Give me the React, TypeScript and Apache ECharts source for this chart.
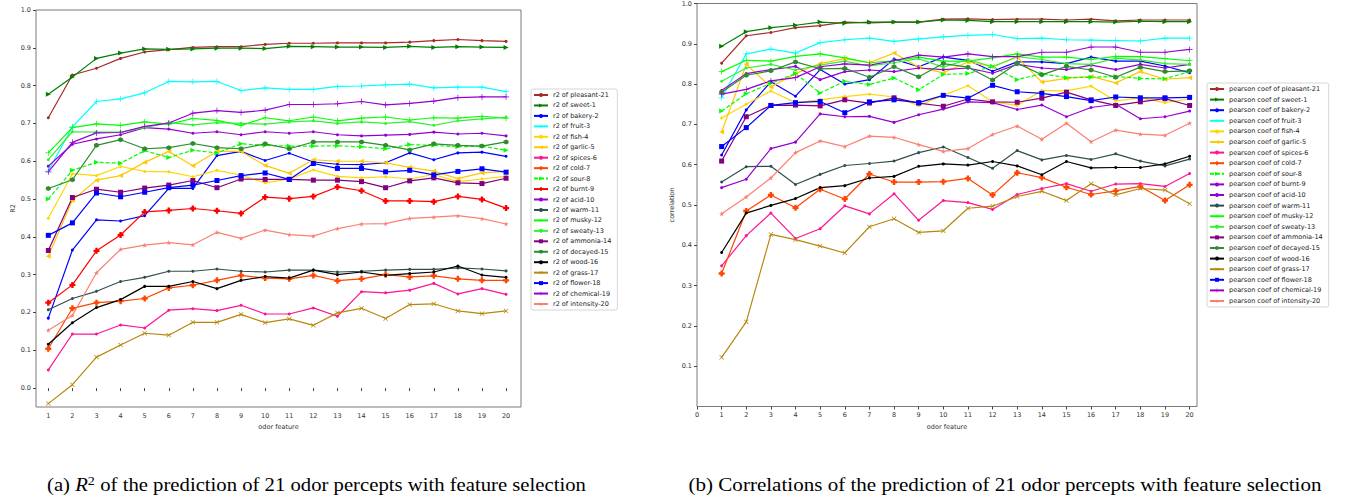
import React, { useEffect, useRef } from "react";
import * as echarts from "echarts";

const featureCounts = [1, 2, 3, 4, 5, 6, 7, 8, 9, 10, 11, 12, 13, 14, 15, 16, 17, 18, 19, 20];
const percepts = [
  "pleasant-21", "sweet-1", "bakery-2", "fruit-3", "fish-4", "garlic-5", "spices-6",
  "cold-7", "sour-8", "burnt-9", "acid-10", "warm-11", "musky-12", "sweaty-13",
  "ammonia-14", "decayed-15", "wood-16", "grass-17", "flower-18", "chemical-19", "intensity-20",
];
const r2Ticks = [0, 0.1, 0.2, 0.3, 0.4, 0.5, 0.6, 0.7, 0.8, 0.9, 1.0];
const corrTicks = [0.1, 0.2, 0.3, 0.4, 0.5, 0.6, 0.7, 0.8, 0.9, 1.0];
const corrXTicks = [0, 1, 2, 3, 4, 5, 6, 7, 8, 9, 10, 11, 12, 13, 14, 15, 16, 17, 18, 19, 20];

// ---- R2 values (left panel) ----
const pleasantR2 = [0.715, 0.828, 0.846, 0.872, 0.889, 0.895, 0.901, 0.903, 0.903, 0.909, 0.912, 0.912, 0.913, 0.913, 0.913, 0.915, 0.919, 0.922, 0.919, 0.917];
const sweetR2 = [0.777, 0.823, 0.872, 0.886, 0.897, 0.896, 0.897, 0.899, 0.899, 0.898, 0.904, 0.903, 0.902, 0.902, 0.901, 0.904, 0.901, 0.903, 0.902, 0.901];
const bakeryR2 = [0.185, 0.365, 0.445, 0.442, 0.456, 0.528, 0.528, 0.615, 0.626, 0.602, 0.621, 0.598, 0.592, 0.591, 0.596, 0.622, 0.604, 0.622, 0.624, 0.613];
const fruitR2 = [0.574, 0.691, 0.758, 0.765, 0.781, 0.811, 0.810, 0.811, 0.787, 0.794, 0.790, 0.790, 0.798, 0.799, 0.802, 0.804, 0.794, 0.796, 0.796, 0.784];
const fishR2 = [0.449, 0.567, 0.562, 0.586, 0.573, 0.572, 0.559, 0.576, 0.563, 0.543, 0.553, 0.577, 0.560, 0.556, 0.559, 0.553, 0.565, 0.546, 0.553, 0.560];
const garlicR2 = [0.349, 0.497, 0.550, 0.562, 0.597, 0.626, 0.588, 0.626, 0.626, 0.589, 0.568, 0.604, 0.600, 0.600, 0.596, 0.584, 0.574, 0.554, 0.569, 0.573];
const spicesR2 = [0.048, 0.143, 0.143, 0.167, 0.159, 0.206, 0.210, 0.205, 0.219, 0.196, 0.196, 0.212, 0.190, 0.255, 0.252, 0.259, 0.277, 0.249, 0.263, 0.248];
const coldR2 = [0.104, 0.211, 0.226, 0.230, 0.237, 0.265, 0.272, 0.285, 0.298, 0.291, 0.289, 0.298, 0.284, 0.289, 0.300, 0.294, 0.297, 0.289, 0.285, 0.285];
const sourR2 = [0.500, 0.576, 0.597, 0.595, 0.628, 0.610, 0.629, 0.622, 0.646, 0.642, 0.640, 0.640, 0.641, 0.638, 0.633, 0.644, 0.642, 0.638, 0.640, 0.629];
const burntR2 = [0.226, 0.273, 0.363, 0.405, 0.466, 0.470, 0.475, 0.469, 0.462, 0.505, 0.501, 0.507, 0.532, 0.522, 0.495, 0.495, 0.493, 0.507, 0.499, 0.476];
const acidR2 = [0.587, 0.645, 0.659, 0.670, 0.689, 0.685, 0.674, 0.678, 0.670, 0.678, 0.674, 0.678, 0.670, 0.667, 0.669, 0.671, 0.677, 0.672, 0.674, 0.667];
const warmR2 = [0.207, 0.237, 0.256, 0.282, 0.293, 0.309, 0.309, 0.315, 0.309, 0.307, 0.312, 0.312, 0.307, 0.309, 0.312, 0.314, 0.314, 0.318, 0.315, 0.310];
const muskyR2 = [0.622, 0.689, 0.699, 0.695, 0.704, 0.698, 0.713, 0.708, 0.695, 0.715, 0.707, 0.717, 0.707, 0.714, 0.717, 0.709, 0.715, 0.714, 0.719, 0.714];
const sweatyR2 = [0.604, 0.678, 0.677, 0.677, 0.689, 0.702, 0.696, 0.702, 0.700, 0.698, 0.704, 0.707, 0.700, 0.704, 0.700, 0.705, 0.695, 0.707, 0.712, 0.716];
const ammoniaR2 = [0.364, 0.504, 0.526, 0.518, 0.529, 0.537, 0.549, 0.530, 0.553, 0.552, 0.552, 0.550, 0.550, 0.546, 0.530, 0.548, 0.556, 0.543, 0.541, 0.555];
const decayedR2 = [0.528, 0.551, 0.642, 0.657, 0.633, 0.636, 0.647, 0.636, 0.633, 0.646, 0.633, 0.651, 0.651, 0.651, 0.642, 0.630, 0.646, 0.642, 0.640, 0.651];
const woodR2 = [0.116, 0.173, 0.213, 0.234, 0.269, 0.269, 0.282, 0.263, 0.285, 0.295, 0.291, 0.312, 0.300, 0.307, 0.298, 0.303, 0.307, 0.323, 0.299, 0.293];
const grassR2 = [-0.041, 0.009, 0.082, 0.114, 0.145, 0.140, 0.174, 0.174, 0.195, 0.173, 0.183, 0.166, 0.199, 0.211, 0.184, 0.221, 0.223, 0.204, 0.197, 0.204];
const flowerR2 = [0.404, 0.437, 0.516, 0.506, 0.518, 0.530, 0.537, 0.549, 0.562, 0.569, 0.552, 0.594, 0.581, 0.581, 0.572, 0.576, 0.564, 0.573, 0.580, 0.571];
const chemicalR2 = [0.572, 0.650, 0.675, 0.676, 0.692, 0.701, 0.727, 0.734, 0.729, 0.735, 0.750, 0.750, 0.752, 0.758, 0.749, 0.753, 0.759, 0.768, 0.770, 0.770];
const intensityR2 = [0.153, 0.192, 0.305, 0.367, 0.378, 0.385, 0.379, 0.412, 0.396, 0.418, 0.406, 0.402, 0.422, 0.434, 0.435, 0.449, 0.452, 0.456, 0.448, 0.434];

// ---- Pearson correlation values (right panel) ----
const pleasantC = [0.852, 0.920, 0.928, 0.940, 0.945, 0.954, 0.952, 0.954, 0.954, 0.961, 0.962, 0.960, 0.961, 0.961, 0.959, 0.961, 0.957, 0.959, 0.959, 0.959];
const sweetC = [0.894, 0.930, 0.940, 0.946, 0.954, 0.951, 0.954, 0.954, 0.954, 0.959, 0.958, 0.955, 0.955, 0.955, 0.955, 0.955, 0.954, 0.956, 0.955, 0.955];
const bakeryC = [0.624, 0.736, 0.806, 0.770, 0.836, 0.800, 0.811, 0.862, 0.843, 0.867, 0.859, 0.832, 0.855, 0.855, 0.851, 0.867, 0.857, 0.857, 0.845, 0.828];
const fruitC = [0.766, 0.875, 0.887, 0.877, 0.903, 0.910, 0.914, 0.906, 0.912, 0.917, 0.921, 0.923, 0.913, 0.914, 0.910, 0.909, 0.908, 0.907, 0.914, 0.914];
const fishC = [0.716, 0.750, 0.783, 0.754, 0.761, 0.769, 0.775, 0.768, 0.747, 0.772, 0.796, 0.756, 0.747, 0.784, 0.783, 0.795, 0.758, 0.766, 0.754, 0.763];
const garlicC = [0.681, 0.849, 0.793, 0.826, 0.851, 0.863, 0.853, 0.877, 0.842, 0.828, 0.855, 0.843, 0.867, 0.805, 0.814, 0.819, 0.803, 0.831, 0.812, 0.816];
const spicesC = [0.349, 0.424, 0.480, 0.417, 0.441, 0.498, 0.478, 0.528, 0.462, 0.511, 0.506, 0.489, 0.526, 0.541, 0.553, 0.534, 0.552, 0.553, 0.546, 0.578];
const coldC = [0.330, 0.485, 0.525, 0.493, 0.539, 0.515, 0.577, 0.557, 0.557, 0.558, 0.566, 0.525, 0.580, 0.568, 0.544, 0.526, 0.535, 0.546, 0.511, 0.550];
const sourC = [0.733, 0.776, 0.802, 0.826, 0.778, 0.807, 0.799, 0.815, 0.786, 0.824, 0.826, 0.844, 0.811, 0.826, 0.816, 0.817, 0.819, 0.814, 0.813, 0.831];
const burntC = [0.543, 0.564, 0.640, 0.656, 0.726, 0.719, 0.720, 0.705, 0.724, 0.738, 0.756, 0.754, 0.737, 0.748, 0.719, 0.742, 0.750, 0.714, 0.719, 0.733];
const acidC = [0.784, 0.826, 0.836, 0.844, 0.811, 0.831, 0.835, 0.831, 0.840, 0.836, 0.840, 0.827, 0.849, 0.840, 0.836, 0.847, 0.836, 0.849, 0.840, 0.849];
const warmC = [0.557, 0.595, 0.596, 0.551, 0.576, 0.598, 0.603, 0.609, 0.630, 0.644, 0.618, 0.591, 0.635, 0.612, 0.623, 0.613, 0.627, 0.609, 0.597, 0.614];
const muskyC = [0.831, 0.859, 0.857, 0.869, 0.875, 0.865, 0.853, 0.858, 0.867, 0.857, 0.857, 0.865, 0.875, 0.867, 0.867, 0.861, 0.869, 0.868, 0.863, 0.858];
const sweatyC = [0.807, 0.840, 0.849, 0.835, 0.847, 0.857, 0.845, 0.853, 0.863, 0.842, 0.861, 0.843, 0.868, 0.861, 0.851, 0.849, 0.864, 0.860, 0.851, 0.849];
const ammoniaC = [0.609, 0.719, 0.747, 0.748, 0.746, 0.761, 0.753, 0.766, 0.753, 0.745, 0.763, 0.756, 0.755, 0.765, 0.780, 0.761, 0.747, 0.756, 0.764, 0.747];
const decayedC = [0.780, 0.822, 0.833, 0.855, 0.838, 0.839, 0.817, 0.843, 0.818, 0.851, 0.842, 0.810, 0.852, 0.823, 0.844, 0.835, 0.817, 0.842, 0.831, 0.833];
const woodC = [0.382, 0.480, 0.499, 0.516, 0.543, 0.548, 0.567, 0.571, 0.596, 0.602, 0.599, 0.608, 0.597, 0.575, 0.608, 0.592, 0.593, 0.593, 0.602, 0.621];
const grassC = [0.122, 0.210, 0.427, 0.414, 0.398, 0.381, 0.446, 0.466, 0.432, 0.436, 0.492, 0.497, 0.521, 0.534, 0.511, 0.553, 0.525, 0.541, 0.537, 0.503];
const flowerC = [0.645, 0.692, 0.747, 0.754, 0.757, 0.729, 0.756, 0.761, 0.754, 0.772, 0.765, 0.797, 0.781, 0.777, 0.769, 0.759, 0.768, 0.766, 0.766, 0.767];
const chemicalC = [0.775, 0.787, 0.808, 0.816, 0.843, 0.850, 0.847, 0.858, 0.872, 0.867, 0.875, 0.868, 0.868, 0.879, 0.879, 0.892, 0.892, 0.879, 0.879, 0.886];
const intensityC = [0.478, 0.520, 0.567, 0.630, 0.659, 0.645, 0.671, 0.668, 0.650, 0.633, 0.640, 0.675, 0.696, 0.663, 0.703, 0.657, 0.686, 0.676, 0.673, 0.703];

const r2Lists = [pleasantR2, sweetR2, bakeryR2, fruitR2, fishR2, garlicR2, spicesR2, coldR2, sourR2, burntR2, acidR2, warmR2, muskyR2, sweatyR2, ammoniaR2, decayedR2, woodR2, grassR2, flowerR2, chemicalR2, intensityR2];
const corrLists = [pleasantC, sweetC, bakeryC, fruitC, fishC, garlicC, spicesC, coldC, sourC, burntC, acidC, warmC, muskyC, sweatyC, ammoniaC, decayedC, woodC, grassC, flowerC, chemicalC, intensityC];

const PLUS = "path://M4.4,0H5.6V4.4H10V5.6H5.6V10H4.4V5.6H0V4.4H4.4Z";
const PLUS_FILLED = "path://M3,0H7V3H10V7H7V10H3V7H0V3H3Z";
const HEX = "path://M5,0L9.33,2.5V7.5L5,10L0.67,7.5V2.5Z";
const STAR = "path://M5,0L6.18,3.38L9.76,3.45L6.9,5.62L7.94,9.05L5,7L2.06,9.05L3.1,5.62L0.24,3.45L3.82,3.38Z";

type Sty = { color: string; symbol: string; size: number; rotate?: number; dashed?: boolean };
const dot = (color: string): Sty => ({ color, symbol: "circle", size: 3 });
const baseStyles: Sty[] = [
  dot("#a52a2a"),
  { color: "#008000", symbol: "triangle", size: 5, rotate: -90 },
  dot("#0000ff"),
  { color: "#00ffff", symbol: PLUS, size: 6 },
  dot("#ffd700"),
  { color: "#ffc800", symbol: "triangle", size: 5, rotate: 90 },
  dot("#ff1493"),
  { color: "#ff4500", symbol: PLUS_FILLED, size: 6 },
  { color: "#00ff00", symbol: "triangle", size: 5, rotate: -90, dashed: true },
  { color: "#ff0000", symbol: PLUS_FILLED, size: 6 },
  dot("#9400d3"),
  dot("#2f4f4f"),
  { color: "#00ff00", symbol: PLUS, size: 6 },
  dot("#33f033"),
  { color: "#800080", symbol: "rect", size: 5 },
  { color: "#2e8b2e", symbol: HEX, size: 5 },
  dot("#000000"),
  { color: "#b8860b", symbol: PLUS, size: 6, rotate: 45 },
  { color: "#0000ff", symbol: "rect", size: 5 },
  { color: "#9400d3", symbol: PLUS, size: 6 },
  { color: "#fa8072", symbol: STAR, size: 5 },
];
const corrStyles: Sty[] = baseStyles.map((s, i) => (i === 9 ? dot("#9400d3") : s));

function makeSeries(prefix: string, lists: number[][], styles: Sty[], idx: number) {
  return lists.map((vals, i) => {
    const s = styles[i];
    return {
      type: "line",
      name: prefix + percepts[i],
      xAxisIndex: idx,
      yAxisIndex: idx,
      data: featureCounts.map((x, k) => [x, vals[k]]),
      symbol: s.symbol,
      symbolSize: s.size,
      symbolRotate: s.rotate || 0,
      showSymbol: true,
      lineStyle: { color: s.color, width: 1.2, type: s.dashed ? [4, 2] : "solid" },
      itemStyle: { color: s.color, borderWidth: 0 },
      emphasis: { disabled: true },
      z: 2,
    };
  });
}

const axisLabelStyle = { fontSize: 6.5, color: "#333", fontFamily: "DejaVu Sans" };

export default function App() {
  const ref = useRef<HTMLDivElement>(null);
  useEffect(() => {
    if (!ref.current) return;
    const chart = echarts.init(ref.current, undefined, { renderer: "svg" });
    const r2Names = percepts.map((p) => "r2 of " + p);
    const corrNames = percepts.map((p) => "pearson coef of " + p);
    const legendBase = {
      orient: "vertical",
      itemWidth: 14,
      itemHeight: 5,
      backgroundColor: "#fff",
      borderColor: "#d6d6d6",
      borderWidth: 1,
      borderRadius: 2,
      selectedMode: false,
      textStyle: { fontSize: 6.5, fontFamily: "DejaVu Sans", color: "#222", lineHeight: 8 },
    };
    chart.setOption({
      animation: false,
      textStyle: { fontFamily: "DejaVu Sans" },
      grid: [
        { left: 36, top: 10, width: 485, height: 397, show: true, borderColor: "#7a7a7a", borderWidth: 1 },
        { left: 697, top: 2, width: 500, height: 404.5, show: true, borderColor: "#7a7a7a", borderWidth: 1 },
      ],
      xAxis: [
        {
          type: "value", gridIndex: 0, min: 0.489, max: 20.62,
          name: "odor feature", nameLocation: "middle", nameGap: 13,
          nameTextStyle: { fontSize: 6.5, color: "#333" },
          axisLine: { show: false }, splitLine: { show: false },
          axisTick: { show: true, length: 3, lineStyle: { color: "#444" }, customValues: featureCounts },
          axisLabel: { ...axisLabelStyle, margin: 5, customValues: featureCounts, formatter: (v: number) => String(v) },
        },
        {
          type: "value", gridIndex: 1, min: 0, max: 20.3,
          name: "odor feature", nameLocation: "middle", nameGap: 13,
          nameTextStyle: { fontSize: 6.5, color: "#333" },
          axisLine: { show: false }, splitLine: { show: false },
          axisTick: { show: true, length: 3, lineStyle: { color: "#444" }, customValues: corrXTicks },
          axisLabel: { ...axisLabelStyle, margin: 5, customValues: corrXTicks, formatter: (v: number) => String(v) },
        },
      ],
      yAxis: [
        {
          type: "value", gridIndex: 0, min: -0.05, max: 1.0,
          name: "R2", nameLocation: "middle", nameGap: 19, nameRotate: 90,
          nameTextStyle: { fontSize: 6.5, color: "#333" },
          axisLine: { show: false }, splitLine: { show: false },
          axisTick: { show: true, length: 3, lineStyle: { color: "#444" }, customValues: r2Ticks },
          axisLabel: { ...axisLabelStyle, margin: 5, customValues: r2Ticks, formatter: (v: number) => v.toFixed(1) },
        },
        {
          type: "value", gridIndex: 1, min: 0, max: 1.0,
          name: "correlation", nameLocation: "middle", nameGap: 22, nameRotate: 90,
          nameTextStyle: { fontSize: 6.5, color: "#333" },
          axisLine: { show: false }, splitLine: { show: false },
          axisTick: { show: true, length: 3, lineStyle: { color: "#444" }, customValues: corrTicks },
          axisLabel: { ...axisLabelStyle, margin: 5, customValues: corrTicks, formatter: (v: number) => v.toFixed(1) },
        },
      ],
      legend: [
        { ...legendBase, left: 531, top: 89, itemGap: 2.45, padding: [2, 6, 2, 2], data: r2Names },
        { ...legendBase, left: 1207, top: 83, itemGap: 2.6, padding: [2, 6, 2, 2], data: corrNames },
      ],
      series: [
        ...makeSeries("r2 of ", r2Lists, baseStyles, 0),
        ...makeSeries("pearson coef of ", corrLists, corrStyles, 1),
      ],
      graphic: [
        {
          type: "text", x: 316.5, y: 484, scaleX: 1.09,
          style: {
            text: "{n|(a) }{i|R}{s|2}{n| of the prediction of 21 odor percepts with feature selection}",
            align: "center", verticalAlign: "middle", fill: "#000",
            fontFamily: "Liberation Serif", fontSize: 19,
            rich: {
              n: { fontFamily: "Liberation Serif", fontSize: 19, fill: "#000" },
              i: { fontFamily: "Liberation Serif", fontSize: 19, fontStyle: "italic", fill: "#000" },
              s: { fontFamily: "Liberation Serif", fontSize: 13, fill: "#000", verticalAlign: "top" },
            },
          },
        },
        {
          type: "text", x: 1005, y: 484, scaleX: 1.108,
          style: {
            text: "(b) Correlations of the prediction of 21 odor percepts with feature selection",
            align: "center", verticalAlign: "middle", fill: "#000",
            fontFamily: "Liberation Serif", fontSize: 19,
          },
        },
      ],
    });
    return () => chart.dispose();
  }, []);
  return (
    <div
      ref={ref}
      style={{ position: "fixed", left: 0, top: 0, width: 1347, height: 498, background: "#fff" }}
    />
  );
}
